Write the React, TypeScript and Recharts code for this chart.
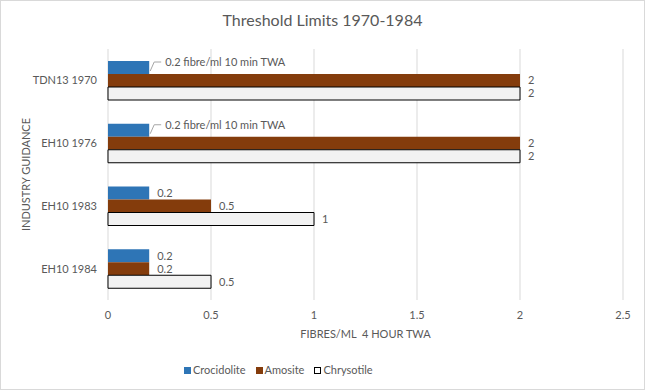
import React from 'react';
import { BarChart, Bar, XAxis, YAxis, CartesianGrid, LabelList } from 'recharts';

const categories = ['TDN13 1970', 'EH10 1976', 'EH10 1983', 'EH10 1984'];
const crocidolite = [0.2, 0.2, 0.2, 0.2];
const amosite = [2, 2, 0.5, 0.2];
const chrysotile = [2, 2, 1, 0.5];
const crocidoliteLabels = ['0.2 fibre/ml 10 min TWA', '0.2 fibre/ml 10 min TWA', '0.2', '0.2'];
const xTicks = [0, 0.5, 1, 1.5, 2, 2.5];

const seriesNames = ['Crocidolite', 'Amosite', 'Chrysotile'];
const seriesColors = ['#2e75b6', '#843c0c', '#f2f2f2'];

const FONT = 'Lato, "Open Sans", sans-serif';
const TEXT = '#595959';
const FS = 11;

const data = categories.map((c, i) => ({
  name: c,
  crocidolite: crocidolite[i],
  amosite: amosite[i],
  chrysotile: chrysotile[i],
}));

// label for crocidolite: long ones get a small leader line
const CrocLabel = (props: any) => {
  const { x, y, width, height, index } = props;
  const txt = crocidoliteLabels[index];
  const end = x + width;
  if (txt.length > 4) {
    const ty = y + 1;
    return (
      <g>
        <polyline
          points={`${end + 1},${y + height - 3} ${end + 5},${ty} ${end + 12},${ty}`}
          fill="none"
          stroke="#a6a6a6"
          strokeWidth={1}
        />
        <text x={end + 16} y={ty} dy="0.35em" fill={TEXT} fontSize={FS} fontFamily={FONT}>
          {txt}
        </text>
      </g>
    );
  }
  return (
    <text x={end + 8} y={y + height / 2} dy="0.35em" fill={TEXT} fontSize={FS} fontFamily={FONT}>
      {txt}
    </text>
  );
};

export default function App() {
  return (
    <div style={{ position: 'absolute', left: 0, top: 0, width: 645, height: 390, background: '#fff', fontFamily: FONT }}>
      <div
        style={{
          position: 'absolute',
          top: 10,
          left: 0,
          width: 645,
          textAlign: 'center',
          fontSize: 16,
          color: TEXT,
        }}
      >
        Threshold Limits 1970-1984
      </div>

      <BarChart
        width={645}
        height={390}
        data={data}
        layout="vertical"
        margin={{ top: 49, right: 22, left: 0, bottom: 0 }}
        barSize={13}
        barGap={0}
      >
        <CartesianGrid horizontal={false} stroke="#d9d9d9" />
        <XAxis
          type="number"
          domain={[0, 2.5]}
          ticks={xTicks}
          height={90}
          axisLine={false}
          tickLine={false}
          tickMargin={5}
          tick={{ fill: TEXT, fontSize: FS, fontFamily: FONT }}
          label={{
            content: ({ viewBox }: any) => (
              <text
                x={viewBox.x + viewBox.width / 2}
                y={334}
                dy="0.35em"
                textAnchor="middle"
                fill={TEXT}
                fontSize={FS}
                fontFamily={FONT}
              >
                {'FIBRES/ML\u00a0 4 HOUR TWA'}
              </text>
            ),
          }}
        />
        <YAxis
          type="category"
          dataKey="name"
          width={108}
          axisLine={false}
          tickLine={false}
          tickMargin={5}
          tick={{ fill: TEXT, fontSize: FS, fontFamily: FONT }}
          label={{
            content: ({ viewBox }: any) => (
              <text
                x={26}
                y={viewBox.y + viewBox.height / 2}
                transform={`rotate(-90, 26, ${viewBox.y + viewBox.height / 2})`}
                dy="0.35em"
                textAnchor="middle"
                fill={TEXT}
                fontSize={FS}
                fontFamily={FONT}
              >
                INDUSTRY GUIDANCE
              </text>
            ),
          }}
        />
        <Bar dataKey="crocidolite" name={seriesNames[0]} fill={seriesColors[0]} isAnimationActive={false}>
          <LabelList dataKey="crocidolite" content={<CrocLabel />} />
        </Bar>
        <Bar dataKey="amosite" name={seriesNames[1]} fill={seriesColors[1]} isAnimationActive={false}>
          <LabelList dataKey="amosite" position="right" offset={8} fill={TEXT} fontSize={FS} fontFamily={FONT} />
        </Bar>
        <Bar
          dataKey="chrysotile"
          name={seriesNames[2]}
          fill={seriesColors[2]}
          stroke="#000"
          strokeWidth={1}
          isAnimationActive={false}
        >
          <LabelList dataKey="chrysotile" position="right" offset={8} fill={TEXT} fontSize={FS} fontFamily={FONT} />
        </Bar>
      </BarChart>

      {/* legend */}
      <div
        style={{
          position: 'absolute',
          top: 362,
          left: 184,
          display: 'flex',
          gap: 10,
          fontSize: FS,
          color: TEXT,
          lineHeight: '16px',
        }}
      >
        {seriesNames.map((n, i) => (
          <div key={n} style={{ display: 'flex', alignItems: 'center', gap: 2 }}>
            <span
              style={{
                display: 'inline-block',
                width: 7,
                height: 7,
                background: i === 2 ? '#fff' : seriesColors[i],
                border: i === 2 ? '1px solid #000' : 'none',
                boxSizing: 'border-box',
              }}
            />
            {n}
          </div>
        ))}
      </div>

      <div
        style={{
          position: 'absolute',
          inset: 0,
          border: '1px solid #d9d9d9',
          pointerEvents: 'none',
        }}
      />
    </div>
  );
}
